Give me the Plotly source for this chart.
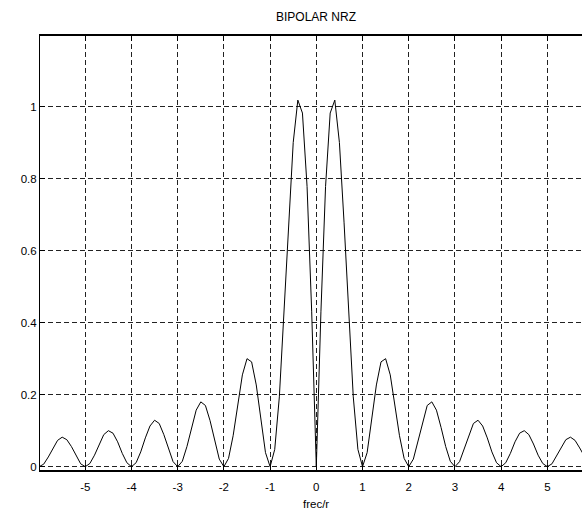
import plotly.graph_objects as go

# Frequency normalised to bit rate (frec/r), sampled every 0.1
frec = [-6.0, -5.9, -5.8, -5.7, -5.6, -5.5, -5.4, -5.3, -5.2, -5.1,
        -5.0, -4.9, -4.8, -4.7, -4.6, -4.5, -4.4, -4.3, -4.2, -4.1,
        -4.0, -3.9, -3.8, -3.7, -3.6, -3.5, -3.4, -3.3, -3.2, -3.1,
        -3.0, -2.9, -2.8, -2.7, -2.6, -2.5, -2.4, -2.3, -2.2, -2.1,
        -2.0, -1.9, -1.8, -1.7, -1.6, -1.5, -1.4, -1.3, -1.2, -1.1,
        -1.0, -0.9, -0.8, -0.7, -0.6, -0.5, -0.4, -0.3, -0.2, -0.1,
        0.0,
        0.1, 0.2, 0.3, 0.4, 0.5, 0.6, 0.7, 0.8, 0.9, 1.0,
        1.1, 1.2, 1.3, 1.4, 1.5, 1.6, 1.7, 1.8, 1.9, 2.0,
        2.1, 2.2, 2.3, 2.4, 2.5, 2.6, 2.7, 2.8, 2.9, 3.0,
        3.1, 3.2, 3.3, 3.4, 3.5, 3.6, 3.7, 3.8, 3.9, 4.0,
        4.1, 4.2, 4.3, 4.4, 4.5, 4.6, 4.7, 4.8, 4.9, 5.0,
        5.1, 5.2, 5.3, 5.4, 5.5, 5.6, 5.7, 5.8, 5.9, 6.0]

# Spectrum amplitude
espectro = [0.000, 0.007, 0.027, 0.052, 0.073, 0.082, 0.075, 0.056, 0.030, 0.008,
            0.000, 0.009, 0.032, 0.063, 0.089, 0.100, 0.093, 0.069, 0.037, 0.011,
            0.000, 0.011, 0.041, 0.080, 0.113, 0.129, 0.120, 0.089, 0.049, 0.014,
            0.000, 0.015, 0.056, 0.109, 0.157, 0.180, 0.170, 0.128, 0.071, 0.021,
            0.000, 0.023, 0.086, 0.173, 0.255, 0.300, 0.291, 0.227, 0.130, 0.039,
            0.000, 0.048, 0.194, 0.421, 0.679, 0.900, 1.018, 0.982, 0.778, 0.430,
            0.000,
            0.430, 0.778, 0.982, 1.018, 0.900, 0.679, 0.421, 0.194, 0.048, 0.000,
            0.039, 0.130, 0.227, 0.291, 0.300, 0.255, 0.173, 0.086, 0.023, 0.000,
            0.021, 0.071, 0.128, 0.170, 0.180, 0.157, 0.109, 0.056, 0.015, 0.000,
            0.014, 0.049, 0.089, 0.120, 0.129, 0.113, 0.080, 0.041, 0.011, 0.000,
            0.011, 0.037, 0.069, 0.093, 0.100, 0.089, 0.063, 0.032, 0.009, 0.000,
            0.008, 0.030, 0.056, 0.075, 0.082, 0.073, 0.052, 0.027, 0.007, 0.000]

x_ticks = [-5, -4, -3, -2, -1, 0, 1, 2, 3, 4, 5]
x_labels = ["-5", "-4", "-3", "-2", "-1", "0", "1", "2", "3", "4", "5"]
y_ticks = [0, 0.2, 0.4, 0.6, 0.8, 1.0]
y_labels = ["0", "0.2", "0.4", "0.6", "0.8", "1"]

titulo = "BIPOLAR NRZ"
xlabel = "frec/r"

FONT = "Liberation Sans, Arial, Helvetica, sans-serif"

fig = go.Figure()
fig.add_trace(go.Scatter(x=frec, y=espectro, mode="lines",
                         line=dict(color="black", width=1),
                         showlegend=False, hoverinfo="skip"))

fig.update_layout(
    width=582, height=515,
    margin=dict(l=40, r=0, t=36, b=45),
    paper_bgcolor="white", plot_bgcolor="white",
    font=dict(family=FONT, size=11, color="black"),
    xaxis=dict(range=[-5.98, 5.75], tickvals=x_ticks, ticktext=x_labels,
               ticks="inside", ticklen=5, tickcolor="black", tickwidth=1,
               showline=True, linecolor="black", linewidth=1.5,
               mirror="allticks", showgrid=True, gridcolor="#222",
               griddash="5px,3px", gridwidth=0.8, zeroline=False,
               ticklabelstandoff=5,
               tickfont=dict(family=FONT, size=11.5)),
    yaxis=dict(range=[-0.0092, 1.196], tickvals=y_ticks, ticktext=y_labels,
               ticks="inside", ticklen=5, tickcolor="black", tickwidth=1,
               showline=True, linecolor="black", linewidth=1,
               mirror=False, showgrid=True, gridcolor="#222",
               griddash="5px,3px", gridwidth=0.8, zeroline=False,
               tickfont=dict(family=FONT, size=11.5)),
    annotations=[
        dict(text=titulo, x=0, xref="x", y=17, yref="paper", yanchor="middle",
             showarrow=False, font=dict(family=FONT, size=12)),
        dict(text=xlabel, x=0, xref="x", y=0, yref="paper", yanchor="top",
             yshift=-26, showarrow=False, font=dict(family=FONT, size=11.5)),
    ],
)
# Title position in pixels -> paper coordinate
fig.layout.annotations[0].y = 1 + (36 - 17) / 434.0

fig.write_html("out.html")
